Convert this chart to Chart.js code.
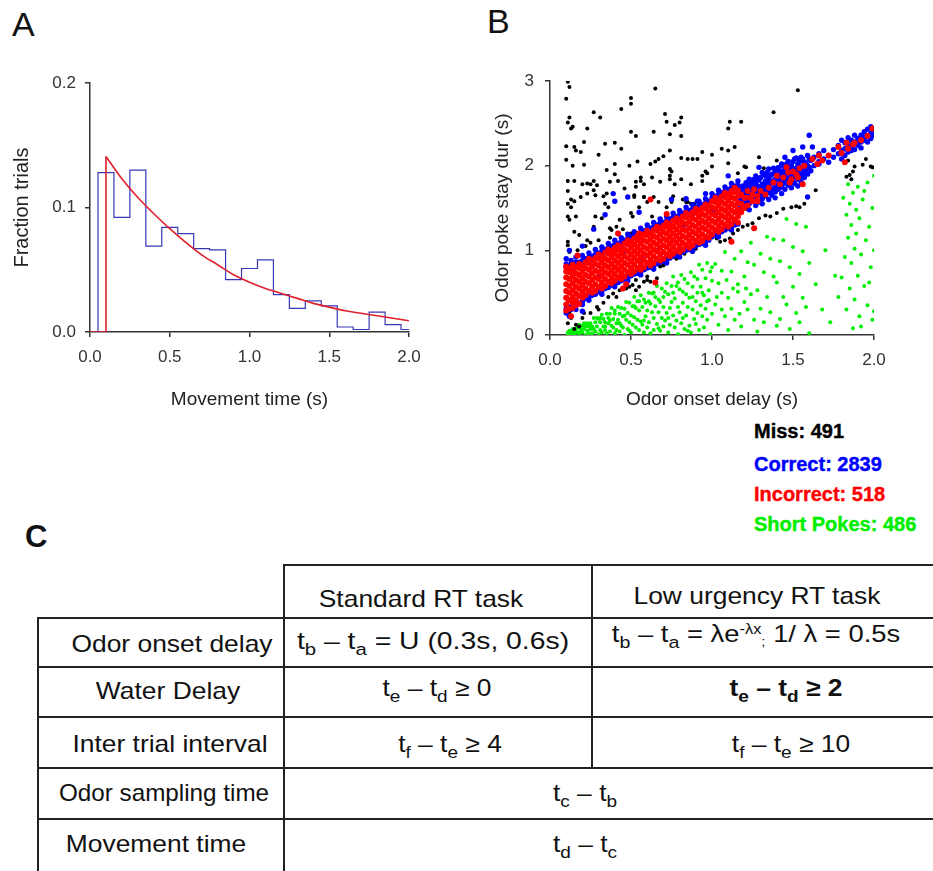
<!DOCTYPE html>
<html>
<head>
<meta charset="utf-8">
<script src="https://cdn.jsdelivr.net/npm/chart.js@4/dist/chart.umd.min.js"></script>
<style>
  html, body { margin: 0; padding: 0; background: #fff; }
  body { width: 933px; height: 871px; position: relative; overflow: hidden;
         font-family: "Liberation Sans", Arial, sans-serif; color: #111; }
  .panel { position: absolute; }
  .letter { position: absolute; font-size: 34px; line-height: 34px; }
  .legend { position: absolute; left: 754px; font-size: 20px; line-height: 20px;
            font-weight: bold; white-space: nowrap; -webkit-text-stroke: 0.4px; }
  .ln { position: absolute; background: #222; }
  .txt { position: absolute; white-space: nowrap; font-size: 24px; line-height: 24px;
         transform: translateX(-50%) scaleX(1.1); }
  .txt sub { font-size: 0.72em; vertical-align: -0.35em; line-height: 0; }
  .txt sup { font-size: 0.6em; vertical-align: 0.55em; line-height: 0; }
  .txt .semi { font-size: 0.55em; vertical-align: -0.3em; }
</style>
</head>
<body>

<div class="letter" style="left:12px; top:7px;">A</div>
<div class="letter" style="left:487px; top:4px;">B</div>
<div class="letter" style="left:25px; top:520px; font-weight:bold; font-size:31px;">C</div>

<div class="panel" style="left:0; top:40px; width:440px; height:380px;"><canvas id="histChart"></canvas></div>
<div class="panel" style="left:470px; top:40px; width:440px; height:380px;"><canvas id="scatterChart"></canvas></div>

<div id="legendBox"></div>

<!-- task table -->
<div class="ln" style="left:284px; top:564px; width:649px; height:2px;"></div>
<div class="ln" style="left:38px; top:617px; width:895px; height:2px;"></div>
<div class="ln" style="left:38px; top:666px; width:895px; height:2px;"></div>
<div class="ln" style="left:38px; top:716px; width:895px; height:2px;"></div>
<div class="ln" style="left:38px; top:767px; width:895px; height:2px;"></div>
<div class="ln" style="left:38px; top:818px; width:895px; height:2px;"></div>
<div class="ln" style="left:37px; top:617px; width:2px; height:254px;"></div>
<div class="ln" style="left:283px; top:564px; width:2px; height:307px;"></div>
<div class="ln" style="left:591px; top:564px; width:2px; height:204px;"></div>

<div class="txt" style="left:421px; top:587px;">Standard RT task</div>
<div class="txt" style="left:757px; top:584px;">Low urgency RT task</div>

<div class="txt" style="left:172px; top:632px;">Odor onset delay</div>
<div class="txt" style="left:433px; top:629px; transform:translateX(-50%) scaleX(1.18);">t<sub>b</sub> – t<sub>a</sub> = U (0.3s, 0.6s)</div>
<div class="txt" style="left:756px; top:622px; transform:translateX(-50%) scaleX(1.14);">t<sub>b</sub> – t<sub>a</sub> = λe<sup>-λx</sup><span class="semi">;</span> 1/ λ = 0.5s</div>

<div class="txt" style="left:168px; top:679px;">Water Delay</div>
<div class="txt" style="left:437px; top:676px;">t<sub>e</sub> – t<sub>d</sub> ≥ 0</div>
<div class="txt" style="left:786px; top:676px; font-weight:bold;">t<sub>e</sub> – t<sub>d</sub> ≥ 2</div>

<div class="txt" style="left:170px; top:732px;">Inter trial interval</div>
<div class="txt" style="left:450px; top:732px;">t<sub>f</sub> – t<sub>e</sub> ≥ 4</div>
<div class="txt" style="left:791px; top:732px;">t<sub>f</sub> – t<sub>e</sub> ≥ 10</div>

<div class="txt" style="left:164px; top:781px; transform:translateX(-50%) scaleX(1.01);">Odor sampling time</div>
<div class="txt" style="left:585px; top:781px;">t<sub>c</sub> – t<sub>b</sub></div>

<div class="txt" style="left:156px; top:832px;">Movement time</div>
<div class="txt" style="left:585px; top:832px;">t<sub>d</sub> – t<sub>c</sub></div>

<script>
// ---- Panel A: movement time histogram + exponential fit ----
const histBinLeft = [0.05, 0.15, 0.25, 0.35, 0.45, 0.55, 0.65, 0.75, 0.85, 0.95,
                     1.05, 1.15, 1.25, 1.35, 1.45, 1.55, 1.65, 1.75, 1.85, 1.95];
const histFrac = [0.128, 0.092, 0.130, 0.069, 0.084, 0.079, 0.067, 0.066, 0.042, 0.051,
                  0.058, 0.030, 0.019, 0.025, 0.021, 0.004, 0.002, 0.016, 0.006, 0.002];
const histEnd = 2.0;

const fitX = [0.1, 0.2, 0.3, 0.4, 0.5, 0.6, 0.7, 0.8, 0.9, 1.0,
              1.1, 1.2, 1.3, 1.4, 1.5, 1.6, 1.7, 1.8, 1.9, 2.0];
const fitY = [0.141, 0.123, 0.108, 0.095, 0.083, 0.072, 0.062, 0.054, 0.046, 0.040,
              0.035, 0.031, 0.027, 0.023, 0.020, 0.017, 0.015, 0.013, 0.011, 0.009];

// ---- Panel B: stay duration vs odor onset delay, flat [x, y, x, y, ...] ----
const missPts = [
  0.11,2.99, 0.12,2.93, 0.10,2.79, 0.65,2.91, 0.50,2.80, 0.50,2.73, 0.44,2.67, 0.27,2.63, 0.31,2.57,
  0.12,2.57, 0.11,2.51, 0.13,2.44, 0.14,2.46, 0.23,2.44, 0.71,2.61, 0.72,2.52, 0.77,2.48, 0.81,2.57,
  0.80,2.51, 0.50,2.40, 0.53,2.35, 0.64,2.40, 0.74,2.37, 0.81,2.35, 0.21,2.28, 0.34,2.26, 0.40,2.27,
  0.10,2.23, 0.15,2.22, 0.16,2.18, 0.19,2.16, 0.30,2.13, 0.44,2.20, 0.74,2.18, 0.94,2.16, 1.00,2.13,
  0.10,2.07, 0.21,2.01, 0.14,2.00, 0.35,1.95, 0.40,2.02, 0.49,2.00, 0.54,2.05, 0.62,2.02, 0.65,2.05,
  0.67,2.08, 0.70,2.11, 0.74,1.96, 0.75,1.93, 0.81,2.09, 0.85,2.08, 0.88,2.08, 0.91,2.08, 0.96,1.93,
  1.00,1.99, 0.11,1.82, 0.15,1.82, 0.20,1.78, 0.23,1.79, 0.25,1.78, 0.29,1.77, 0.27,1.82, 0.37,1.81,
  0.40,1.90, 0.42,1.82, 0.53,1.81, 0.56,1.86, 0.56,1.82, 0.58,1.78, 0.63,1.86, 0.68,1.81, 0.74,1.88,
  0.74,1.84, 0.77,1.78, 0.81,1.84, 0.87,1.78, 0.94,1.88, 0.94,1.82, 0.11,1.70, 0.13,1.60, 0.15,1.58,
  0.19,1.63, 0.23,1.67, 0.27,1.71, 0.28,1.65, 0.33,1.64, 0.35,1.67, 0.34,1.55, 0.46,1.73, 0.52,1.65,
  0.58,1.63, 0.60,1.57, 0.67,1.57, 0.75,1.57, 0.76,1.64, 0.82,1.60, 0.84,1.57, 0.87,1.55, 0.89,1.55,
  0.11,1.55, 0.13,1.51, 0.11,1.40, 0.12,1.36, 0.16,1.40, 0.11,1.10, 0.11,1.06, 0.15,1.22, 0.18,1.18,
  0.23,1.12, 0.25,1.09, 0.27,1.28, 0.28,1.40, 0.32,1.38, 0.36,1.51, 0.37,1.26, 0.38,1.24, 0.43,1.36,
  0.41,1.28, 0.50,1.44, 0.51,1.40, 0.52,1.63, 0.55,1.51, 0.58,1.63, 0.50,1.20, 0.53,1.75, 0.64,1.63,
  0.72,1.51, 0.80,1.42, 0.85,1.57, 0.88,1.42, 0.97,1.91, 1.06,2.20, 1.10,2.18, 1.10,2.44, 1.11,2.52,
  1.18,2.52, 1.14,2.22, 1.10,2.03, 1.20,1.99, 1.21,1.98, 1.16,1.91, 1.29,2.10, 1.32,1.97, 1.38,2.63,
  1.53,2.89, 1.40,2.06, 0.12,0.98, 0.17,1.00, 0.22,1.05, 0.30,1.12, 0.37,1.15, 0.45,1.25, 0.63,1.40,
  0.11,0.41, 0.12,0.26, 0.11,0.14, 0.16,0.12, 0.18,0.10, 0.14,0.31, 0.21,0.26, 0.25,0.26, 0.29,0.33,
  0.36,0.45, 0.39,0.49, 0.43,0.53, 0.47,0.55, 0.49,0.57, 0.53,0.53, 0.55,0.57, 0.60,0.65, 0.62,0.63,
  0.66,0.67, 0.64,0.77, 0.68,0.81, 0.72,0.88, 0.75,0.94, 0.80,1.00, 0.83,0.96, 0.86,1.04, 0.88,0.98,
  0.92,1.10, 0.97,1.12, 1.01,1.18, 1.05,1.10, 1.08,1.12, 1.11,1.14, 1.13,1.20, 1.16,1.24, 1.19,1.28,
  1.25,1.32, 1.29,1.38, 1.36,1.40, 1.40,1.44, 1.44,1.49, 1.49,1.51, 1.54,1.51, 1.57,1.55, 1.64,1.71,
  1.83,1.87, 1.85,1.89, 1.87,1.93, 1.88,1.99, 1.84,2.06, 1.93,2.01, 1.95,2.08, 1.98,1.99, 1.99,1.98,
  0.47,0.61, 0.51,0.59, 0.53,0.65, 0.58,0.63, 0.60,0.69, 0.13,0.20, 0.15,0.07, 0.20,0.20, 0.30,0.30,
  0.33,0.38, 0.41,0.45, 0.70,0.82, 0.78,0.90, 0.90,1.02, 1.03,1.14, 1.22,1.30, 1.33,1.41, 1.52,1.52,
  1.86,1.84
];

const correctPts = [
  // upper and lower fringe of the band
  0.10,0.84, 0.10,0.90, 0.10,0.26, 0.10,0.31, 0.10,0.80, 0.12,0.81, 0.12,0.33, 0.13,0.83, 0.13,0.88,
  0.13,0.30, 0.16,0.86, 0.16,0.92, 0.16,0.35, 0.16,0.30, 0.18,0.86, 0.18,0.38, 0.20,0.88, 0.20,0.94,
  0.20,0.40, 0.20,0.36, 0.22,0.90, 0.22,0.43, 0.24,0.92, 0.24,0.97, 0.24,0.45, 0.24,0.41, 0.26,0.93,
  0.26,0.47, 0.28,0.95, 0.28,1.01, 0.28,0.48, 0.30,0.97, 0.30,0.51, 0.32,0.99, 0.32,1.04, 0.32,0.52,
  0.32,0.48, 0.34,1.01, 0.34,0.55, 0.36,1.03, 0.36,1.08, 0.36,0.56, 0.38,1.05, 0.38,0.59, 0.40,1.07,
  0.40,1.12, 0.40,0.61, 0.40,0.57, 0.42,1.08, 0.42,0.62, 0.44,1.10, 0.44,1.15, 0.44,0.64, 0.46,1.12,
  0.46,0.66, 0.48,1.14, 0.48,1.19, 0.48,0.68, 0.48,0.64, 0.50,1.16, 0.50,0.70, 0.52,1.18, 0.52,1.22,
  0.52,0.72, 0.54,1.19, 0.54,0.73, 0.56,1.21, 0.56,1.26, 0.56,0.75, 0.56,0.71, 0.58,1.23, 0.58,0.77,
  0.60,1.25, 0.60,1.30, 0.60,0.79, 0.62,1.26, 0.62,0.80, 0.64,1.28, 0.64,1.33, 0.64,0.82, 0.64,0.78,
  0.66,1.30, 0.66,0.84, 0.68,1.32, 0.68,1.37, 0.68,0.86, 0.70,1.33, 0.70,0.87, 0.72,1.35, 0.72,1.40,
  0.72,0.89, 0.72,0.85, 0.74,1.37, 0.74,0.91, 0.76,1.39, 0.76,1.44, 0.76,0.93, 0.78,1.40, 0.78,0.94,
  0.80,1.42, 0.80,1.47, 0.80,0.96, 0.80,0.92, 0.82,1.44, 0.82,0.98, 0.84,1.46, 0.84,1.51, 0.84,1.00,
  0.86,1.47, 0.86,1.01, 0.88,1.49, 0.88,1.54, 0.88,1.03, 0.88,0.99, 0.90,1.51, 0.90,1.05, 0.92,1.53,
  0.92,1.58, 0.92,1.07, 0.94,1.54, 0.94,1.08, 0.96,1.56, 0.96,1.61, 0.96,1.10, 0.96,1.06, 0.98,1.58,
  0.98,1.12, 1.00,1.62, 1.00,1.67, 1.00,1.16, 1.02,1.64, 1.02,1.18, 1.04,1.66, 1.04,1.71, 1.04,1.20,
  1.04,1.16, 1.06,1.68, 1.06,1.22, 1.08,1.70, 1.08,1.75, 1.08,1.24, 1.10,1.72, 1.10,1.26, 1.12,1.74,
  1.12,1.79, 1.12,1.28, 1.12,1.24, 1.14,1.76, 1.14,1.30, 1.16,1.77, 1.16,1.82, 1.16,1.31,
  // right part of the band, where blue dominates
  1.17,1.54, 1.17,1.62, 1.17,1.72, 1.17,1.46, 1.19,1.58, 1.19,1.66, 1.19,1.76, 1.19,1.50, 1.21,1.50,
  1.21,1.60, 1.21,1.69, 1.21,1.80, 1.23,1.55, 1.23,1.64, 1.23,1.73, 1.23,1.84, 1.23,1.48, 1.25,1.58,
  1.25,1.67, 1.25,1.76, 1.27,1.53, 1.27,1.62, 1.27,1.70, 1.27,1.80, 1.27,1.88, 1.29,1.57, 1.29,1.66,
  1.29,1.74, 1.29,1.83, 1.31,1.61, 1.31,1.70, 1.31,1.78, 1.31,1.92, 1.31,1.55, 1.33,1.64, 1.33,1.73,
  1.33,1.82, 1.33,1.88, 1.35,1.60, 1.35,1.68, 1.35,1.77, 1.35,1.85, 1.35,1.96, 1.37,1.65, 1.37,1.72,
  1.37,1.81, 1.37,1.90, 1.39,1.69, 1.39,1.76, 1.39,1.84, 1.39,1.93, 1.39,1.62, 1.41,1.72, 1.41,1.80,
  1.41,1.88, 1.41,1.98, 1.43,1.67, 1.43,1.76, 1.43,1.84, 1.43,1.92, 1.43,2.02, 1.45,1.72, 1.45,1.80,
  1.45,1.89, 1.45,1.96, 1.47,1.77, 1.47,1.85, 1.47,1.93, 1.47,2.05, 1.49,1.74, 1.49,1.82, 1.49,1.90,
  1.49,2.00, 1.51,1.79, 1.51,1.87, 1.51,1.95, 1.51,2.08, 1.53,1.76, 1.53,1.84, 1.53,1.92, 1.53,2.02,
  1.55,1.81, 1.55,1.90, 1.55,1.98, 1.55,2.10, 1.57,1.86, 1.57,1.95, 1.57,2.04, 1.59,1.63, 1.59,1.90,
  1.59,2.00, 1.59,2.12, 1.61,1.94, 1.61,2.06, 1.63,2.00, 1.63,2.10, 1.66,2.05, 1.66,2.14, 1.66,2.02,
  1.69,2.08, 1.69,2.18, 1.72,2.04, 1.72,2.12, 1.75,2.10, 1.75,2.19, 1.78,2.14, 1.78,2.24, 1.80,2.08,
  1.80,2.18, 1.80,2.30, 1.82,2.20, 1.82,2.27, 1.82,2.12, 1.84,2.16, 1.84,2.25, 1.84,2.33, 1.86,2.22,
  1.86,2.30, 1.86,2.18, 1.88,2.19, 1.88,2.28, 1.88,2.36, 1.90,2.24, 1.90,2.32, 1.90,2.27, 1.92,2.28,
  1.92,2.36, 1.92,2.21, 1.94,2.30, 1.94,2.40, 1.94,2.34, 1.96,2.35, 1.96,2.43, 1.96,2.28, 1.98,2.38,
  1.98,2.46, 1.98,2.32, 2.00,2.36, 2.00,2.42,
  1.18,1.60, 1.18,1.70, 1.18,1.52, 1.20,1.55, 1.20,1.64, 1.20,1.74, 1.22,1.58, 1.22,1.67, 1.22,1.77,
  1.24,1.60, 1.24,1.70, 1.24,1.80, 1.26,1.63, 1.26,1.73, 1.26,1.84, 1.28,1.66, 1.28,1.76, 1.28,1.85,
  1.30,1.65, 1.30,1.75, 1.30,1.86, 1.32,1.68, 1.32,1.78, 1.32,1.90, 1.34,1.71, 1.34,1.80, 1.34,1.92,
  1.36,1.70, 1.36,1.79, 1.36,1.88, 1.38,1.73, 1.38,1.82, 1.38,1.97, 1.40,1.77, 1.40,1.86, 1.40,1.95,
  1.42,1.74, 1.42,1.83, 1.42,1.94, 1.44,1.79, 1.44,1.88, 1.44,2.00, 1.46,1.82, 1.46,1.91, 1.46,2.02,
  1.48,1.80, 1.48,1.89, 1.48,1.98, 1.50,1.84, 1.50,1.94, 1.50,2.05, 1.52,1.88, 1.52,1.97, 1.52,2.09,
  1.54,1.86, 1.54,1.95, 1.54,2.05, 1.56,1.90, 1.56,1.99, 1.56,2.08, 1.58,1.94, 1.58,2.03, 1.60,1.98,
  1.60,2.08,
  // strays
  0.12,1.00, 0.20,1.05, 0.27,1.25, 0.34,1.42, 0.55,1.45, 0.75,1.60, 1.10,1.88, 1.29,1.98, 1.62,2.22,
  1.45,2.10, 0.39,1.67, 0.40,1.58, 0.48,1.63, 0.84,1.61, 0.91,1.58, 0.96,1.67, 0.12,0.22, 0.20,0.28,
  1.60,2.36, 1.56,2.22, 1.50,2.18, 0.31,0.70, 0.45,0.96, 0.66,1.00, 0.83,1.30, 1.01,1.47, 0.57,0.90
];

const incorrectPts = [
  0.10,0.36, 0.10,0.44, 0.10,0.52, 0.10,0.60, 0.10,0.68, 0.10,0.75, 0.10,0.29, 0.10,0.81,
  0.12,0.41, 0.12,0.50, 0.12,0.58, 0.12,0.66, 0.12,0.74, 0.12,0.79, 0.12,0.31,
  0.14,0.38, 0.14,0.45, 0.14,0.53, 0.14,0.61, 0.14,0.69, 0.14,0.76, 0.14,0.32, 0.14,0.83,
  0.16,0.41, 0.16,0.49, 0.16,0.57, 0.16,0.65, 0.16,0.73, 0.16,0.80, 0.16,0.35,
  0.18,0.46, 0.18,0.55, 0.18,0.63, 0.18,0.71, 0.18,0.79, 0.18,0.84, 0.18,0.37,
  0.20,0.44, 0.20,0.51, 0.20,0.59, 0.20,0.67, 0.20,0.75, 0.20,0.82,
  0.22,0.47, 0.22,0.55, 0.22,0.63, 0.22,0.71, 0.22,0.79, 0.22,0.86,
  0.24,0.52, 0.24,0.61, 0.24,0.69, 0.24,0.77, 0.24,0.85, 0.24,0.90,
  0.26,0.50, 0.26,0.57, 0.26,0.65, 0.26,0.73, 0.26,0.81, 0.26,0.88,
  0.28,0.52, 0.28,0.60, 0.28,0.68, 0.28,0.76, 0.28,0.84, 0.28,0.91,
  0.30,0.57, 0.30,0.66, 0.30,0.74, 0.30,0.82, 0.30,0.90, 0.30,0.95,
  0.32,0.55, 0.32,0.62, 0.32,0.70, 0.32,0.78, 0.32,0.86, 0.32,0.93,
  0.34,0.58, 0.34,0.66, 0.34,0.74, 0.34,0.82, 0.34,0.90, 0.34,0.97,
  0.36,0.63, 0.36,0.72, 0.36,0.80, 0.36,0.88, 0.36,0.96, 0.36,1.01,
  0.38,0.61, 0.38,0.68, 0.38,0.76, 0.38,0.84, 0.38,0.92, 0.38,0.99,
  0.40,0.64, 0.40,0.72, 0.40,0.80, 0.40,0.88, 0.40,0.96, 0.40,1.03,
  0.42,0.68, 0.42,0.77, 0.42,0.85, 0.42,0.93, 0.42,1.01, 0.42,1.06,
  0.44,0.66, 0.44,0.73, 0.44,0.81, 0.44,0.89, 0.44,0.97, 0.44,1.04,
  0.46,0.69, 0.46,0.77, 0.46,0.85, 0.46,0.93, 0.46,1.01, 0.46,1.08,
  0.48,0.74, 0.48,0.83, 0.48,0.91, 0.48,0.99, 0.48,1.07, 0.48,1.12,
  0.50,0.72, 0.50,0.79, 0.50,0.87, 0.50,0.95, 0.50,1.03, 0.50,1.10,
  0.52,0.75, 0.52,0.83, 0.52,0.91, 0.52,0.99, 0.52,1.07, 0.52,1.14,
  0.54,0.79, 0.54,0.88, 0.54,0.96, 0.54,1.04, 0.54,1.12, 0.54,1.17,
  0.56,0.77, 0.56,0.84, 0.56,0.92, 0.56,1.00, 0.56,1.08, 0.56,1.15,
  0.58,0.80, 0.58,0.88, 0.58,0.96, 0.58,1.04, 0.58,1.12, 0.58,1.19,
  0.60,0.85, 0.60,0.94, 0.60,1.02, 0.60,1.10, 0.60,1.18, 0.60,1.23,
  0.62,0.82, 0.62,0.89, 0.62,0.97, 0.62,1.05, 0.62,1.13, 0.62,1.20,
  0.64,0.85, 0.64,0.93, 0.64,1.01, 0.64,1.09, 0.64,1.17, 0.64,1.24,
  0.66,0.90, 0.66,0.99, 0.66,1.07, 0.66,1.15, 0.66,1.23, 0.66,1.28,
  0.68,0.88, 0.68,0.95, 0.68,1.03, 0.68,1.11, 0.68,1.19, 0.68,1.26,
  0.70,0.90, 0.70,0.98, 0.70,1.06, 0.70,1.14, 0.70,1.22, 0.70,1.29,
  0.72,0.95, 0.72,1.04, 0.72,1.12, 0.72,1.20, 0.72,1.28, 0.72,1.33,
  0.74,0.93, 0.74,1.00, 0.74,1.08, 0.74,1.16, 0.74,1.24, 0.74,1.31,
  0.76,0.96, 0.76,1.04, 0.76,1.12, 0.76,1.20, 0.76,1.28, 0.76,1.35,
  0.78,1.00, 0.78,1.09, 0.78,1.17, 0.78,1.25, 0.78,1.33, 0.78,1.38,
  0.80,0.98, 0.80,1.05, 0.80,1.13, 0.80,1.21, 0.80,1.29, 0.80,1.36,
  0.82,1.01, 0.82,1.09, 0.82,1.17, 0.82,1.25, 0.82,1.33, 0.82,1.40,
  0.84,1.06, 0.84,1.15, 0.84,1.23, 0.84,1.31, 0.84,1.39, 0.84,1.44,
  0.86,1.03, 0.86,1.10, 0.86,1.18, 0.86,1.26, 0.86,1.34, 0.86,1.41,
  0.88,1.06, 0.88,1.14, 0.88,1.22, 0.88,1.30, 0.88,1.38, 0.88,1.45,
  0.90,1.11, 0.90,1.20, 0.90,1.28, 0.90,1.36, 0.90,1.44, 0.90,1.49,
  0.92,1.09, 0.92,1.16, 0.92,1.24, 0.92,1.32, 0.92,1.40, 0.92,1.47,
  0.94,1.11, 0.94,1.19, 0.94,1.27, 0.94,1.35, 0.94,1.43, 0.94,1.50,
  0.96,1.16, 0.96,1.25, 0.96,1.33, 0.96,1.41, 0.96,1.49, 0.96,1.54,
  0.98,1.15, 0.98,1.22, 0.98,1.30, 0.98,1.38, 0.98,1.46, 0.98,1.53,
  1.00,1.19, 1.00,1.27, 1.00,1.35, 1.00,1.43, 1.00,1.51, 1.00,1.58,
  1.02,1.24, 1.02,1.33, 1.02,1.41, 1.02,1.49, 1.02,1.57, 1.02,1.62,
  1.04,1.22, 1.04,1.29, 1.04,1.37, 1.04,1.45, 1.04,1.53, 1.04,1.60,
  1.06,1.25, 1.06,1.33, 1.06,1.41, 1.06,1.49, 1.06,1.57, 1.06,1.64,
  1.08,1.30, 1.08,1.39, 1.08,1.47, 1.08,1.55, 1.08,1.63, 1.08,1.68,
  1.10,1.28, 1.10,1.35, 1.10,1.43, 1.10,1.51, 1.10,1.59, 1.10,1.66,
  1.12,1.31, 1.12,1.39, 1.12,1.47, 1.12,1.55, 1.12,1.63, 1.12,1.70,
  1.14,1.36, 1.14,1.45, 1.14,1.53, 1.14,1.61, 1.14,1.69, 1.14,1.74,
  1.16,1.33, 1.16,1.40, 1.16,1.48, 1.16,1.56, 1.16,1.64, 1.16,1.71,
  1.18,1.45, 1.18,1.55, 1.18,1.66, 1.20,1.50, 1.20,1.62, 1.22,1.53, 1.22,1.70, 1.25,1.58, 1.25,1.66,
  1.28,1.64,
  // sparse red past the dense core
  1.19,1.52, 1.21,1.62, 1.24,1.62, 1.28,1.58, 1.30,1.70, 1.35,1.74, 1.38,1.80, 1.42,1.78, 1.44,1.86,
  1.47,1.92, 1.49,1.84, 1.52,1.90, 1.54,1.97, 1.46,1.98, 1.40,1.88, 1.57,2.00, 1.33,1.66, 1.26,1.72,
  1.50,1.93, 1.53,1.86, 1.48,1.80, 1.66,2.12, 1.68,2.06, 1.62,2.08, 1.72,2.12, 1.80,2.15, 1.84,2.20,
  1.87,2.25, 1.88,2.27, 1.83,2.27, 1.96,2.35, 1.99,2.44, 1.92,2.30, 1.78,2.22, 1.82,2.04, 1.65,2.02,
  // strays
  0.13,0.22, 0.17,0.94, 0.47,0.60, 0.55,1.20, 0.72,1.43, 0.85,1.42, 1.26,1.26, 0.45,0.55, 0.65,0.62,
  0.42,1.20, 0.62,1.60, 1.12,1.10, 1.56,1.78
];

const shortPokePts = [
  0.11,0.03, 0.11,0.01, 0.12,0.05, 0.12,0.02, 0.13,0.00, 0.13,0.05, 0.14,0.02, 0.14,0.07, 0.15,0.05,
  0.15,0.01, 0.16,0.07, 0.16,0.04, 0.17,0.09, 0.17,0.03, 0.18,0.12, 0.18,0.01, 0.19,0.07, 0.19,0.04,
  0.20,0.11, 0.20,0.03, 0.21,0.07, 0.21,0.14, 0.22,0.00, 0.22,0.10, 0.23,0.05, 0.23,0.14, 0.24,0.02,
  0.24,0.10, 0.25,0.07, 0.25,0.14, 0.26,0.02, 0.26,0.10, 0.27,0.20, 0.27,0.07, 0.28,0.15, 0.28,0.04,
  0.29,0.20, 0.29,0.10, 0.30,0.01, 0.30,0.19, 0.31,0.06, 0.31,0.15, 0.32,0.03, 0.32,0.24, 0.33,0.10,
  0.33,0.19, 0.34,0.06, 0.34,0.15, 0.35,0.25, 0.35,0.02, 0.36,0.14, 0.36,0.20, 0.37,0.04, 0.37,0.25,
  0.38,0.11, 0.38,0.32, 0.39,0.09, 0.39,0.19, 0.40,0.02, 0.40,0.25, 0.41,0.14, 0.41,0.06, 0.42,0.33,
  0.42,0.18, 0.43,0.04, 0.43,0.25, 0.44,0.11, 0.44,0.32, 0.45,0.09, 0.45,0.22, 0.46,0.00, 0.46,0.31,
  0.47,0.18, 0.47,0.39, 0.48,0.07, 0.48,0.26, 0.49,0.15, 0.49,0.38, 0.50,0.03, 0.50,0.23, 0.51,0.12,
  0.51,0.34, 0.52,0.21, 0.52,0.45, 0.53,0.09, 0.53,0.32, 0.54,0.18, 0.54,0.40, 0.55,0.06, 0.55,0.29,
  0.56,0.16, 0.56,0.47, 0.57,0.12, 0.57,0.33, 0.58,0.03, 0.58,0.42, 0.59,0.22, 0.59,0.38, 0.60,0.09,
  0.60,0.29, 0.61,0.50, 0.61,0.15, 0.62,0.37, 0.62,0.02, 0.63,0.27, 0.63,0.49, 0.64,0.20, 0.64,0.06,
  0.65,0.45, 0.65,0.34, 0.66,0.13, 0.66,0.58, 0.67,0.27, 0.67,0.42, 0.68,0.05, 0.68,0.39, 0.69,0.20,
  0.69,0.55, 0.70,0.10, 0.70,0.33, 0.71,0.51, 0.71,0.17, 0.72,0.61, 0.72,0.26, 0.73,0.03, 0.73,0.48,
  0.74,0.32, 0.74,0.12, 0.75,0.58, 0.75,0.39, 0.76,0.23, 0.76,0.69, 0.77,0.09, 0.77,0.43, 0.78,0.17,
  0.78,0.58, 0.79,0.33, 0.79,0.01, 0.80,0.54, 0.80,0.27, 0.81,0.71, 0.81,0.14, 0.82,0.51, 0.82,0.38,
  0.83,0.07, 0.83,0.66, 0.84,0.23, 0.84,0.48, 0.85,0.33, 0.85,0.61, 0.86,0.11, 0.86,0.44, 0.87,0.03,
  0.87,0.74, 0.88,0.30, 0.88,0.57, 0.89,0.19, 0.89,0.69, 0.90,0.40, 0.90,0.13, 0.91,0.50, 0.91,0.26,
  0.92,0.83, 0.92,0.06, 0.93,0.57, 0.93,0.35, 0.94,0.77, 0.94,0.22, 0.95,0.47, 0.95,0.09, 0.96,0.67,
  0.96,0.31, 0.97,0.85, 0.97,0.18, 0.98,0.53, 0.98,0.41, 0.99,0.75, 0.99,0.01, 1.00,0.64, 1.00,0.25,
  1.02,0.84, 1.02,0.36, 1.04,0.12, 1.04,0.61, 1.06,0.50, 1.06,0.76, 1.08,0.22, 1.08,0.98, 1.10,0.44,
  1.10,0.06, 1.12,0.75, 1.12,0.31, 1.14,0.90, 1.14,0.18, 1.16,0.60, 1.16,0.51, 1.18,0.99, 1.18,0.10,
  1.20,0.69, 1.20,0.39, 1.22,0.86, 1.22,0.30, 1.24,1.09, 1.24,0.48, 1.26,0.18, 1.26,0.83, 1.28,0.53,
  1.28,0.04, 1.30,0.96, 1.30,0.31, 1.32,0.74, 1.32,0.15, 1.34,1.16, 1.34,0.45, 1.36,0.90, 1.36,0.27,
  1.38,0.69, 1.38,1.13, 1.40,0.11, 1.40,0.62, 1.42,0.87, 1.42,0.19, 1.44,1.12, 1.44,0.45, 1.46,1.37,
  1.46,0.36, 1.48,0.80, 1.48,0.07, 1.50,1.04, 1.50,0.57, 1.52,0.26, 1.52,1.31, 1.54,0.72, 1.54,0.15,
  1.56,0.99, 1.56,0.44, 1.58,1.28, 1.58,0.33, 1.60,0.85, 1.60,0.02, 1.64,0.60, 1.68,0.30, 1.70,1.00,
  1.73,0.15, 1.76,0.70, 1.78,0.45,
  0.31,0.20, 0.34,0.10, 0.37,0.17, 0.40,0.29, 0.43,0.14, 0.46,0.23, 0.49,0.05, 0.52,0.34, 0.55,0.40,
  0.58,0.17, 0.61,0.40, 0.64,0.50, 0.67,0.08, 0.70,0.45, 0.73,0.20, 0.76,0.50, 0.79,0.62, 0.82,0.20,
  0.85,0.05, 0.88,0.45, 0.91,0.66, 0.94,0.50, 0.97,0.40, 1.00,0.80, 1.03,0.45, 1.06,0.30, 1.09,0.65,
  1.13,0.55, 1.17,0.25, 1.21,0.55,
  1.80,0.68, 1.81,1.62, 1.82,0.92, 1.83,1.42, 1.83,0.30, 1.84,1.78, 1.84,1.15, 1.85,0.55, 1.85,1.55,
  1.86,0.85, 1.86,1.30, 1.87,0.08, 1.87,1.68, 1.88,1.02, 1.88,0.42, 1.89,1.48, 1.89,1.20, 1.90,0.70,
  1.90,1.75, 1.91,0.22, 1.91,1.38, 1.92,0.95, 1.93,1.60, 1.94,0.58, 1.95,1.12, 1.96,0.35, 1.96,1.80,
  1.97,1.28, 1.98,0.80, 1.99,1.50, 1.99,0.18, 2.00,1.88, 2.00,1.00, 2.00,0.28, 1.97,0.62, 1.94,1.70,
  1.92,0.10
];

const outcomeNames  = ["Miss", "Correct", "Incorrect", "Short Pokes"];
const outcomeCounts = [491, 2839, 518, 486];
const outcomeColors = ["#000000", "#0000ff", "#ff0000", "#00ee00"];

// ---- helpers ----
function toPoints(flat) {
  const out = [];
  for (let i = 0; i < flat.length; i += 2) out.push({ x: flat[i], y: flat[i + 1] });
  return out;
}

Chart.defaults.font.family = '"Liberation Sans", Arial, sans-serif';
Chart.defaults.color = "#333";
Chart.defaults.animation = false;

const axisColor = "#333";

function axisStyle(extra) {
  return Object.assign({
    type: "linear",
    border: { color: axisColor, width: 1.5 },
    grid: { drawOnChartArea: false, drawTicks: true, tickLength: 5, color: axisColor, lineWidth: 1.5 },
  }, extra);
}

// ---- Panel A ----
const histData = [{ x: histBinLeft[0], y: 0 }]
  .concat(histBinLeft.map((x, i) => ({ x, y: histFrac[i] })))
  .concat([{ x: histEnd, y: histFrac[histFrac.length - 1] }]);

const fitData = fitX.map((x, i) => ({ x, y: fitY[i] }));
// the fit is zero before its onset, then jumps up
const fitOnset = [{ x: 0, y: 0 }, { x: fitX[0], y: 0 }, { x: fitX[0], y: fitY[0] }];

new Chart(document.getElementById("histChart"), {
  type: "line",
  data: {
    datasets: [
      { data: fitData, borderColor: "#e0202a", borderWidth: 1.6, pointRadius: 0,
        cubicInterpolationMode: "monotone", order: 1 },
      { data: fitOnset, borderColor: "#e0202a", borderWidth: 1.6, pointRadius: 0,
        tension: 0, order: 1 },
      { data: histData, borderColor: "#3838b8", borderWidth: 1.2, pointRadius: 0,
        stepped: "before", order: 2 }
    ]
  },
  options: {
    responsive: true,
    maintainAspectRatio: false,
    layout: { padding: { top: 43, right: 31, left: 0, bottom: 0 } },
    plugins: { legend: { display: false }, tooltip: { enabled: false } },
    scales: {
      x: axisStyle({
        min: 0, max: 2,
        ticks: { stepSize: 0.5, padding: 10, color: "#333", font: { size: 17 },
                 callback: v => v.toFixed(1) },
        title: { display: true, text: "Movement time (s)", color: "#222",
                 font: { size: 19 }, padding: { top: 0, bottom: 9 } },
        afterFit: s => { s.height = 88; }
      }),
      y: axisStyle({
        min: 0, max: 0.2,
        ticks: { stepSize: 0.1, padding: 9, color: "#333", font: { size: 17 },
                 callback: v => v.toFixed(1) },
        title: { display: true, text: "Fraction trials", color: "#222",
                 font: { size: 20 }, padding: { top: 10, bottom: 0 } },
        afterFit: s => { s.width = 90; }
      })
    }
  }
});

// ---- Panel B ----
const scatterSets = [
  { pts: incorrectPts, color: outcomeColors[2], r: 3.0, order: 1 },
  { pts: correctPts,   color: outcomeColors[1], r: 2.7, order: 2 },
  { pts: missPts,      color: outcomeColors[0], r: 2.0, order: 3 },
  { pts: shortPokePts, color: outcomeColors[3], r: 2.0, order: 4 }
];

new Chart(document.getElementById("scatterChart"), {
  type: "scatter",
  data: {
    datasets: scatterSets.map(s => ({
      data: toPoints(s.pts),
      backgroundColor: s.color,
      borderWidth: 0,
      pointRadius: s.r,
      order: s.order
    }))
  },
  options: {
    responsive: true,
    maintainAspectRatio: false,
    layout: { padding: { top: 41, right: 36, left: 0, bottom: 0 } },
    plugins: { legend: { display: false }, tooltip: { enabled: false } },
    scales: {
      x: axisStyle({
        min: 0, max: 2,
        ticks: { stepSize: 0.5, padding: 10, color: "#333", font: { size: 17 },
                 callback: v => v.toFixed(1) },
        title: { display: true, text: "Odor onset delay (s)", color: "#222",
                 font: { size: 19 }, padding: { top: 0, bottom: 9 } },
        afterFit: s => { s.height = 85; }
      }),
      y: axisStyle({
        min: 0, max: 3,
        ticks: { stepSize: 1, padding: 11, color: "#333", font: { size: 17 } },
        title: { display: true, text: "Odor poke stay dur (s)", color: "#222",
                 font: { size: 19 }, padding: { top: 21, bottom: 0 } },
        afterFit: s => { s.width = 80; }
      })
    }
  }
});

// ---- outcome counts below panel B ----
const legendTops = [421, 454, 484, 514];
const legendBox = document.getElementById("legendBox");
outcomeNames.forEach((name, i) => {
  const d = document.createElement("div");
  d.className = "legend";
  d.style.top = legendTops[i] + "px";
  d.style.color = outcomeColors[i];
  d.textContent = name + ": " + outcomeCounts[i];
  legendBox.appendChild(d);
});
</script>
</body>
</html>
